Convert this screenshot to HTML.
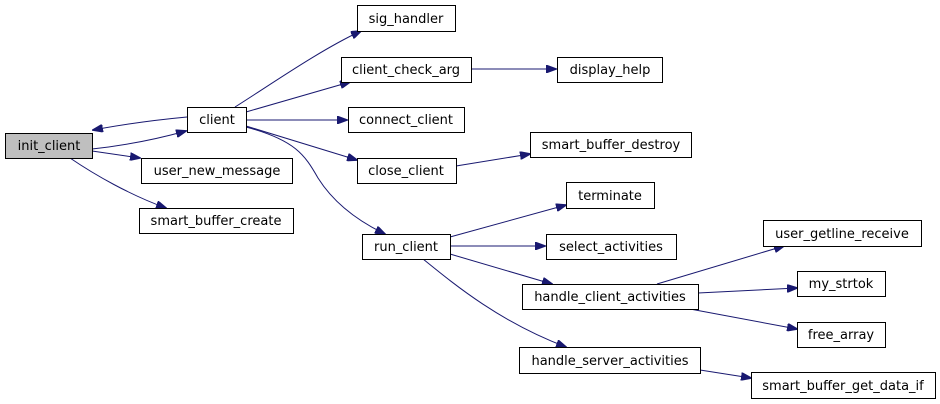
<!DOCTYPE html>
<html><head><meta charset="utf-8"><style>
html,body{margin:0;padding:0;background:#fff;}
svg{display:block;}
text{font-family:"DejaVu Sans","Liberation Sans",sans-serif;font-size:13px;fill:#000;}
.b{fill:#fff;stroke:#000;stroke-width:1;}
.e{fill:none;stroke:#191970;stroke-width:1;marker-end:url(#a);}
</style></head><body>
<svg width="940" height="404" viewBox="0 0 940 404" xmlns="http://www.w3.org/2000/svg">
<defs><marker id="a" markerWidth="11" markerHeight="8" refX="10" refY="4" orient="auto" markerUnits="userSpaceOnUse"><path d="M0,0 L11,4 L0,8 Z" fill="#191970" stroke="#191970"/></marker></defs>
<path class="e" d="M187,117 C155,120 125,124 93,130"/>
<path class="e" d="M92,149 C120,146 150,141 186,131"/>
<path class="e" d="M92,151 L140,158"/>
<path class="e" d="M70,158 C95,175 130,195 166,208"/>
<path class="e" d="M235,107 C270,85 320,50 361,31"/>
<path class="e" d="M246,112 L350,82"/>
<path class="e" d="M246,120 L347,120"/>
<path class="e" d="M246,126 L357,160"/>
<path class="e" d="M246,127 C295,140 305,155 318,178 C335,205 360,222 385,234"/>
<path class="e" d="M471,69 L556,69"/>
<path class="e" d="M456,166 L530,154"/>
<path class="e" d="M450,237 L566,205"/>
<path class="e" d="M450,246 L545,246"/>
<path class="e" d="M450,254 L552,284"/>
<path class="e" d="M423,259 C455,285 500,322 566,347"/>
<path class="e" d="M657,284 L784,246"/>
<path class="e" d="M698,293 L797,288"/>
<path class="e" d="M690,309 L797,329"/>
<path class="e" d="M700,370 L751,378"/>
<rect x="5.5" y="133.5" width="87" height="25" fill="#bfbfbf" stroke="#000"/><text x="49" y="150" text-anchor="middle">init_client</text>
<rect class="b" x="187.5" y="107.5" width="59" height="25"/><text x="217" y="124" text-anchor="middle">client</text>
<rect class="b" x="357.5" y="5.5" width="98" height="26"/><text x="406" y="23" text-anchor="middle">sig_handler</text>
<rect class="b" x="341.5" y="57.5" width="130" height="25"/><text x="406" y="74" text-anchor="middle">client_check_arg</text>
<rect class="b" x="348.5" y="107.5" width="116" height="25"/><text x="406" y="124" text-anchor="middle">connect_client</text>
<rect class="b" x="357.5" y="158.5" width="99" height="25"/><text x="406" y="175" text-anchor="middle">close_client</text>
<rect class="b" x="141.5" y="158.5" width="151" height="25"/><text x="217" y="175" text-anchor="middle">user_new_message</text>
<rect class="b" x="139.5" y="208.5" width="154" height="25"/><text x="216" y="225" text-anchor="middle">smart_buffer_create</text>
<rect class="b" x="362.5" y="234.5" width="88" height="25"/><text x="406" y="251" text-anchor="middle">run_client</text>
<rect class="b" x="557.5" y="57.5" width="105" height="25"/><text x="610" y="74" text-anchor="middle">display_help</text>
<rect class="b" x="530.5" y="132.5" width="161" height="25"/><text x="611" y="149" text-anchor="middle">smart_buffer_destroy</text>
<rect class="b" x="566.5" y="182.5" width="88" height="26"/><text x="610" y="200" text-anchor="middle">terminate</text>
<rect class="b" x="546.5" y="234.5" width="130" height="25"/><text x="611" y="251" text-anchor="middle">select_activities</text>
<rect class="b" x="522.5" y="284.5" width="176" height="25"/><text x="610" y="301" text-anchor="middle">handle_client_activities</text>
<rect class="b" x="519.5" y="347.5" width="181" height="26"/><text x="610" y="365" text-anchor="middle">handle_server_activities</text>
<rect class="b" x="763.5" y="220.5" width="158" height="26"/><text x="842" y="238" text-anchor="middle">user_getline_receive</text>
<rect class="b" x="797.5" y="271.5" width="88" height="25"/><text x="841" y="288" text-anchor="middle">my_strtok</text>
<rect class="b" x="797.5" y="322.5" width="88" height="25"/><text x="841" y="339" text-anchor="middle">free_array</text>
<rect class="b" x="751.5" y="372.5" width="184" height="26"/><text x="843" y="390" text-anchor="middle">smart_buffer_get_data_if</text>
</svg>
</body></html>
